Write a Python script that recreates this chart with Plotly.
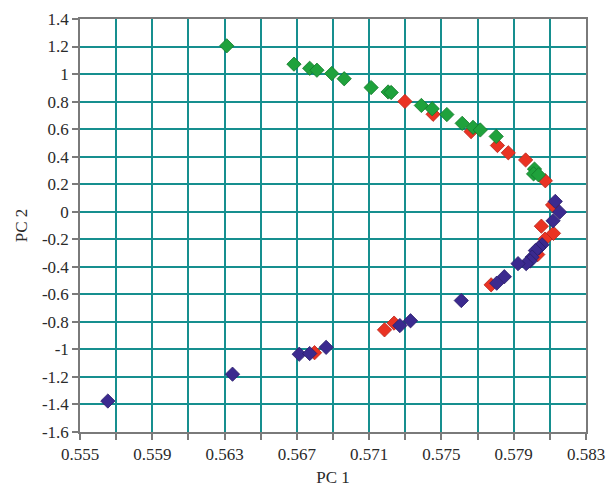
import plotly.graph_objects as go

# ---- data ----
red_x = [0.57298, 0.57454, 0.57664, 0.57810, 0.57870, 0.57966, 0.58075,
         0.58115, 0.58053, 0.58120, 0.58073, 0.58033, 0.57775, 0.57185,
         0.57238, 0.56798]
red_y = [0.801, 0.708, 0.582, 0.481, 0.428, 0.376, 0.225,
         0.049, -0.105, -0.157, -0.199, -0.311, -0.531, -0.858,
         -0.809, -1.024]

blue_x = [0.58130, 0.58154, 0.58118, 0.58057, 0.58039, 0.58020, 0.58002,
          0.57991, 0.57969, 0.57924, 0.57848, 0.57806, 0.57610, 0.57270,
          0.57329, 0.55654, 0.56344, 0.56713, 0.56771, 0.56862]
blue_y = [0.075, -0.003, -0.066, -0.240, -0.263, -0.282, -0.330,
          -0.358, -0.377, -0.377, -0.472, -0.519, -0.645, -0.827,
          -0.792, -1.375, -1.180, -1.035, -1.030, -0.985]

green_x = [0.56312, 0.56684, 0.56771, 0.56811, 0.56893, 0.56962, 0.57111,
           0.57205, 0.57222, 0.57389, 0.57449, 0.57530, 0.57615, 0.57675,
           0.57715, 0.57803, 0.58015, 0.58010, 0.58037]
green_y = [1.205, 1.072, 1.042, 1.028, 1.004, 0.966, 0.902,
           0.870, 0.866, 0.772, 0.748, 0.706, 0.642, 0.613,
           0.594, 0.547, 0.310, 0.275, 0.268]

x_tick_vals = [0.555, 0.557, 0.559, 0.561, 0.563, 0.565, 0.567, 0.569,
               0.571, 0.573, 0.575, 0.577, 0.579, 0.581, 0.583]
x_tick_text = ["0.555", "", "0.559", "", "0.563", "", "0.567", "",
               "0.571", "", "0.575", "", "0.579", "", "0.583"]
y_tick_vals = [1.4, 1.2, 1.0, 0.8, 0.6, 0.4, 0.2, 0.0, -0.2, -0.4,
               -0.6, -0.8, -1.0, -1.2, -1.4, -1.6]
y_tick_text = ["1.4", "1.2", "1", "0.8", "0.6", "0.4", "0.2", "0", "-0.2",
               "-0.4", "-0.6", "-0.8", "-1", "-1.2", "-1.4", "-1.6"]

FONT = "Liberation Serif"
GRID = "#168f8f"
AXIS = "#7a7a7a"

fig = go.Figure()

def add(xs, ys, color, line):
    fig.add_trace(go.Scatter(
        x=xs, y=ys, mode="markers",
        marker=dict(symbol="diamond", size=11, color=color,
                    line=dict(color=line, width=0.8)),
        showlegend=False, hoverinfo="skip"))

add(red_x, red_y, "#ea3323", "#b8261a")
add(blue_x, blue_y, "#3b2a8f", "#2a1d6a")
add(green_x, green_y, "#1fa23c", "#13782a")

fig.update_layout(
    width=615, height=496,
    margin=dict(l=80, r=21, t=10, b=64),
    paper_bgcolor="white", plot_bgcolor="white",
    font=dict(family=FONT, size=17, color="#2a2a2a"),
)
fig.update_xaxes(
    range=[0.555, 0.583], tickvals=x_tick_vals, ticktext=x_tick_text,
    showgrid=True, gridcolor=GRID, gridwidth=1.5,
    showline=True, linecolor=AXIS, linewidth=1.5, mirror=True,
    ticks="outside", ticklen=6, tickcolor=AXIS, tickwidth=1.5,
    zeroline=False,
    title=dict(text="PC 1", font=dict(family=FONT, size=17), standoff=8),
)
fig.update_yaxes(
    range=[-1.6, 1.4], tickvals=y_tick_vals, ticktext=y_tick_text,
    showgrid=True, gridcolor=GRID, gridwidth=1.5,
    showline=True, linecolor=AXIS, linewidth=1.5, mirror=True,
    ticks="outside", ticklen=6, tickcolor=AXIS, tickwidth=1.5,
    zeroline=False,
    title=dict(text="PC 2", font=dict(family=FONT, size=17), standoff=10),
)

fig.write_html(
    "out.html",
    config={"displayModeBar": False},
    post_script="document.body.style.margin='0';document.body.style.overflow='hidden';",
)
